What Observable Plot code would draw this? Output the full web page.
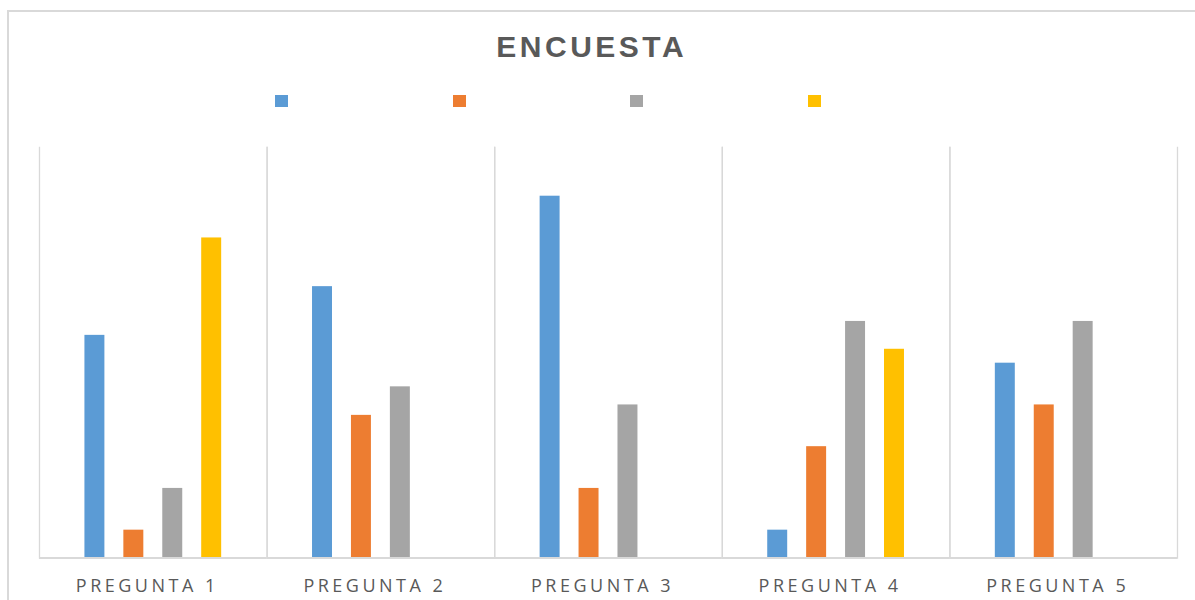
<!DOCTYPE html>
<html><head><meta charset="utf-8">
<script src="https://cdn.jsdelivr.net/npm/d3@7"></script>
<script src="https://cdn.jsdelivr.net/npm/@observablehq/plot@0.6"></script>
<style>
html,body{margin:0;padding:0;width:1195px;height:600px;overflow:hidden;background:#fff;}
#frame{position:absolute;left:7px;top:10px;width:1200px;height:620px;border:2px solid #d9d9d9;box-sizing:border-box;}
#title{position:absolute;left:0;top:31.8px;width:1180px;text-align:center;font:bold 30px/30px "Liberation Sans",Arial,sans-serif;letter-spacing:3.5px;color:#595959;padding-left:3.5px;box-sizing:border-box;}
#legend{position:absolute;left:275px;top:95px;display:flex;}
.item{width:177.5px;display:flex;align-items:center;height:12px;font:14px "Open Sans",sans-serif;color:#595959;}
.sw{width:13px;height:12px;flex:none;margin-right:6px;}
#chart{position:absolute;left:0;top:130px;}
#chart g[aria-label="fx-axis tick label"] text{letter-spacing:3.5px;}
</style>
</head><body>
<div id="frame"></div>
<div id="title">ENCUESTA</div>
<div id="legend"></div>
<div id="chart"></div>
<script>
const questions = ["PREGUNTA 1", "PREGUNTA 2", "PREGUNTA 3", "PREGUNTA 4", "PREGUNTA 5"];
const seriesKeys = ["Serie 1", "Serie 2", "Serie 3", "Serie 4"];
const seriesLabels = ["", "", "", ""];
const seriesColors = ["#5b9bd5", "#ed7d31", "#a5a5a5", "#ffc000"];
const serie1 = [16, 19.5, 26, 2, 14];
const serie2 = [2, 10.25, 5, 8, 11];
const serie3 = [5, 12.3, 11, 17, 17];
const serie4 = [23, null, null, 15, null];
const yMax = 29.5;

const allSeries = [serie1, serie2, serie3, serie4];
const rows = [];
questions.forEach((q, i) => {
  allSeries.forEach((arr, j) => {
    if (arr[i] != null) rows.push({q, s: seriesKeys[j], v: arr[i]});
  });
});

const legend = document.getElementById("legend");
seriesKeys.forEach((k, j) => {
  const it = document.createElement("div");
  it.className = "item";
  const sw = document.createElement("span");
  sw.className = "sw";
  sw.style.background = seriesColors[j];
  it.appendChild(sw);
  const lb = document.createElement("span");
  lb.textContent = seriesLabels[j];
  it.appendChild(lb);
  legend.appendChild(it);
});

const chart = Plot.plot({
  width: 1195,
  height: 470,
  marginTop: 17,
  marginBottom: 42.5,
  marginLeft: 39,
  marginRight: 18,
  fx: {domain: questions, padding: 0, round: false, label: null},
  x: {domain: seriesKeys, paddingInner: 0.487, paddingOuter: 1.167, round: false, axis: null},
  y: {domain: [0, yMax], axis: null},
  color: {domain: seriesKeys, range: seriesColors},
  style: {fontFamily: "'Open Sans', sans-serif", fontSize: "18px", color: "#595959", background: "transparent", overflow: "visible"},
  marks: [
    Plot.frame({anchor: "left", stroke: "#d9d9d9", strokeWidth: 1.3}),
    Plot.frame({anchor: "right", stroke: "#d9d9d9", strokeWidth: 1.3}),
    Plot.barY(rows, {fx: "q", x: "s", y: "v", fill: "s"}),
    Plot.ruleY([0], {stroke: "#d9d9d9", strokeWidth: 2}),
    Plot.axisFx({anchor: "bottom", tickSize: 0, tickPadding: 21, dx: -6, fontSize: 18, fill: "#595959", label: null})
  ]
});
document.getElementById("chart").appendChild(chart);
</script>
</body></html>
